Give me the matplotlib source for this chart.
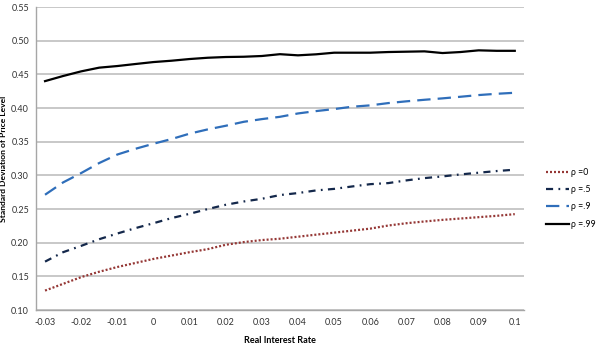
import matplotlib
matplotlib.use("Agg")
import matplotlib.pyplot as plt
import numpy as np

rates = [-0.03, -0.025, -0.02, -0.015, -0.01, -0.005, 0.0, 0.005, 0.01, 0.015,
         0.02, 0.025, 0.03, 0.035, 0.04, 0.045, 0.05, 0.055, 0.06, 0.065,
         0.07, 0.075, 0.08, 0.085, 0.09, 0.095, 0.1]

rho_0 = [0.129, 0.139, 0.149, 0.157, 0.164, 0.170, 0.176, 0.181, 0.186, 0.1905,
         0.197, 0.201, 0.204, 0.206, 0.209, 0.212, 0.215, 0.218, 0.221, 0.2256,
         0.229, 0.2316, 0.234, 0.236, 0.238, 0.240, 0.2425]
rho_5 = [0.172, 0.186, 0.1954, 0.2053, 0.2137, 0.2217, 0.229, 0.2366, 0.243, 0.250,
         0.2564, 0.2613, 0.2653, 0.2708, 0.2738, 0.2777, 0.280, 0.2836, 0.287, 0.2886,
         0.2926, 0.296, 0.2985, 0.3015, 0.304, 0.3065, 0.3085]
rho_9 = [0.2713, 0.2896, 0.3035, 0.3184, 0.331, 0.3395, 0.347, 0.354, 0.362, 0.3683,
         0.3737, 0.3796, 0.3836, 0.387, 0.392, 0.3955, 0.3985, 0.402, 0.404, 0.4074,
         0.410, 0.4123, 0.4144, 0.4168, 0.4193, 0.4212, 0.4227]
rho_99 = [0.440, 0.4476, 0.4545, 0.460, 0.4624, 0.4654, 0.4683, 0.4703, 0.4728, 0.4747,
          0.4758, 0.4762, 0.4773, 0.480, 0.4783, 0.4798, 0.4822, 0.4822, 0.4822, 0.4832,
          0.4837, 0.4842, 0.4817, 0.4832, 0.4857, 0.485, 0.485]

labels = ["ρ =0", "ρ =.5", "ρ =.9", "ρ =.99"]
xtick_vals = [-0.03, -0.02, -0.01, 0, 0.01, 0.02, 0.03, 0.04, 0.05, 0.06, 0.07, 0.08, 0.09, 0.1]
xtick_labels = ["-0.03", "-0.02", "-0.01", "0", "0.01", "0.02", "0.03", "0.04",
                "0.05", "0.06", "0.07", "0.08", "0.09", "0.1"]
ytick_vals = [0.10, 0.15, 0.20, 0.25, 0.30, 0.35, 0.40, 0.45, 0.50, 0.55]

plt.rcParams['font.family'] = ['Lato', 'DejaVu Sans']

fig = plt.figure(figsize=(6, 3.52), dpi=100)
ax = fig.add_axes([0.06, 0.119, 0.813, 0.861])

ax.plot(rates, rho_0, color="#953735", lw=1.6, dashes=(0.9, 0.9), label=labels[0])
ax.plot(rates, rho_5, color="#14284B", lw=1.6, dashes=(3.2, 2.4, 0.8, 2.4), label=labels[1])
ax.plot(rates, rho_9, color="#2F6EBA", lw=1.6, dashes=(6.0, 3.2), label=labels[2])
ax.plot(rates, rho_99, color="#000000", lw=1.6, label=labels[3])

ax.set_xlim(-0.0325, 0.1025)
ax.set_ylim(0.10, 0.55)
ax.set_xticks(xtick_vals)
ax.set_xticklabels(xtick_labels)
ax.set_yticks(ytick_vals)
ax.set_yticklabels([f"{v:.2f}" for v in ytick_vals])
ax.tick_params(axis='both', length=0, labelsize=6.5, colors="#333333")
ax.tick_params(axis='x', pad=6)
ax.tick_params(axis='y', pad=5)
ax.grid(axis='y', color="#BFBFBF", lw=1.2)
ax.set_axisbelow(True)
for s in ["top", "right"]:
    ax.spines[s].set_visible(False)
ax.spines["left"].set_color("#A6A6A6")
ax.spines["bottom"].set_color("#A6A6A6")
ax.spines["left"].set_linewidth(1.0)
ax.spines["bottom"].set_linewidth(1.0)

ax.set_xlabel("Real Interest Rate", fontsize=6.5, fontweight="bold", labelpad=6)
ax.set_ylabel("Standard Deviation of Price Level", fontsize=6.1, fontweight="bold", labelpad=3)

leg = ax.legend(loc="upper left", bbox_to_anchor=(1.045, 0.47), frameon=False,
                borderaxespad=0, borderpad=0,
                fontsize=6.3, handlelength=2.6, handletextpad=0.25, labelspacing=0.95)

fig.savefig("out.png", dpi=100)
